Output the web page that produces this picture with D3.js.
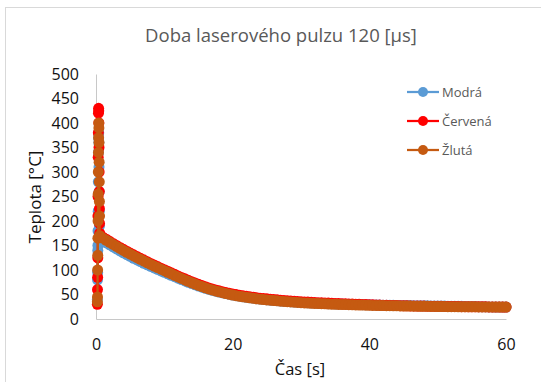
<!doctype html>
<html>
<head>
<meta charset="utf-8">
<style>
  body { margin: 0; background: #fff; }
  text { font-family: "Open Sans", "Noto Sans", sans-serif; }
</style>
<script src="https://d3js.org/d3.v7.min.js"></script>
</head>
<body>
<svg id="chart" width="541" height="382"></svg>
<script>
// spike during the pulse (time in s)
var spikeTime = [0.20, 0.22, 0.24, 0.26, 0.28, 0.30, 0.32, 0.34, 0.36, 0.38, 0.40, 0.42, 0.44, 0.46, 0.48, 0.50, 0.52, 0.54];
var blueSpike   = [40, 80, 95, 140, 150, 180, 220, 280, 340, 370, 380, 360, 310, 260, 220, 190, 160, 155];
var redSpike    = [30, 60, 85, 125, 210, 250, 330, 380, 420, 430, 425, 400, 350, 300, 260, 225, 195, 175];
var orangeSpike = [35, 45, 100, 130, 165, 200, 255, 300, 340, 370, 400, 390, 360, 320, 280, 240, 210, 170];

// cooling after the pulse (time in s)
var coolTime = [
  1, 1.5, 2, 2.5, 3, 3.5, 4, 4.5, 5, 5.5,
  6, 6.5, 7, 7.5, 8, 8.5, 9, 9.5, 10, 10.5,
  11, 11.5, 12, 12.5, 13, 13.5, 14, 14.5, 15, 15.5,
  16, 16.5, 17, 17.5, 18, 18.5, 19, 19.5, 20, 20.5,
  21, 21.5, 22, 22.5, 23, 23.5, 24, 24.5, 25, 25.5,
  26, 26.5, 27, 27.5, 28, 28.5, 29, 29.5, 30, 30.5,
  31, 31.5, 32, 32.5, 33, 33.5, 34, 34.5, 35, 35.5,
  36, 36.5, 37, 37.5, 38, 38.5, 39, 39.5, 40, 40.5,
  41, 41.5, 42, 42.5, 43, 43.5, 44, 44.5, 45, 45.5,
  46, 46.5, 47, 47.5, 48, 48.5, 49, 49.5, 50, 50.5,
  51, 51.5, 52, 52.5, 53, 53.5, 54, 54.5, 55, 55.5,
  56, 56.5, 57, 57.5, 58, 58.5, 59, 59.5, 60];
var blueCool = [
  160, 155.6, 151.3, 147, 142.9, 138.9, 135, 131.3, 127.6, 124,
  120.5, 117.1, 113.8, 110.5, 107.3, 104.2, 101.2, 98.2, 95.3, 92.3,
  89.3, 86.3, 83.4, 80.5, 77.7, 74.9, 72.3, 69.7, 67.2, 64.9,
  62.7, 60.6, 58.6, 56.8, 55, 53.4, 51.8, 50.4, 49, 47.7,
  46.5, 45.4, 44.3, 43.3, 42.4, 41.5, 40.7, 39.9, 39.2, 38.5,
  37.9, 37.3, 36.7, 36.2, 35.7, 35.2, 34.7, 34.3, 33.9, 33.5,
  33.1, 32.8, 32.5, 32.2, 31.9, 31.6, 31.3, 31.1, 30.8, 30.6,
  30.4, 30.2, 30, 29.8, 29.6, 29.4, 29.2, 29.1, 28.9, 28.8,
  28.6, 28.5, 28.3, 28.2, 28, 27.9, 27.8, 27.7, 27.5, 27.4,
  27.3, 27.2, 27.1, 27, 26.9, 26.8, 26.7, 26.6, 26.5, 26.4,
  26.3, 26.2, 26.1, 26, 25.9, 25.8, 25.7, 25.6, 25.5, 25.3,
  25.1, 24.9, 24.8, 24.7, 24.6, 24.5, 24.4, 24.35, 24.3];
var redCool = [
  167, 162.8, 158.6, 154.3, 150.1, 146.1, 142.1, 138.3, 134.6, 130.9,
  127.3, 123.8, 120.3, 116.9, 113.5, 110.2, 107, 103.8, 100.7, 97.5,
  94.3, 91.1, 88, 84.9, 81.9, 79, 76.1, 73.4, 70.7, 68.2,
  65.8, 63.5, 61.4, 59.4, 57.5, 55.8, 54.1, 52.6, 51.1, 49.8,
  48.5, 47.4, 46.3, 45.3, 44.3, 43.4, 42.6, 41.8, 41.1, 40.4,
  39.7, 39.1, 38.5, 37.9, 37.4, 36.9, 36.4, 35.9, 35.4, 34.9,
  34.5, 34.1, 33.7, 33.3, 33, 32.7, 32.4, 32.1, 31.8, 31.5,
  31.2, 30.9, 30.7, 30.4, 30.2, 29.9, 29.7, 29.4, 29.2, 28.9,
  28.7, 28.4, 28.2, 27.9, 27.7, 27.5, 27.3, 27.1, 26.9, 26.8,
  26.7, 26.6, 26.5, 26.4, 26.3, 26.2, 26.1, 26, 25.9, 25.8,
  25.7, 25.6, 25.5, 25.4, 25.3, 25.2, 25.1, 25, 24.95, 24.9,
  24.85, 24.8, 24.75, 24.7, 24.65, 24.6, 24.55, 24.5, 24.45];
var orangeCool = [
  165, 160.7, 156.5, 152.2, 148, 144, 140, 136.2, 132.5, 128.8,
  125.2, 121.7, 118.2, 114.8, 111.4, 108.1, 104.9, 101.7, 98.6, 95.4,
  92.2, 89, 85.9, 82.8, 79.8, 76.9, 74, 71.3, 68.6, 66.1,
  63.7, 61.4, 59.3, 57.3, 55.4, 53.7, 52, 50.5, 49, 47.7,
  46.4, 45.3, 44.2, 43.2, 42.2, 41.3, 40.5, 39.7, 39, 38.3,
  37.6, 37, 36.4, 35.8, 35.3, 34.8, 34.3, 33.8, 33.4, 32.9,
  32.5, 32.1, 31.8, 31.5, 31.2, 30.9, 30.6, 30.3, 30.1, 29.8,
  29.6, 29.4, 29.2, 29, 28.8, 28.6, 28.4, 28.2, 28, 27.8,
  27.7, 27.5, 27.4, 27.2, 27.1, 26.9, 26.8, 26.6, 26.5, 26.4,
  26.3, 26.2, 26.1, 26, 25.9, 25.8, 25.7, 25.6, 25.5, 25.4,
  25.3, 25.2, 25.1, 25.05, 25, 24.95, 24.9, 24.85, 24.8, 24.75,
  24.7, 24.65, 24.6, 24.55, 24.5, 24.45, 24.4, 24.35, 24.3];

var seriesNames = ["Modrá", "Červená", "Žlutá"];
var seriesColors = ["#5b9bd5", "#ff0000", "#c55a11"];
var xTicks = [0, 20, 40, 60];
var yTicks = [0, 50, 100, 150, 200, 250, 300, 350, 400, 450, 500];

function pts(ts, vs) { return ts.map(function(t, i) { return [t, vs[i]]; }); }
var series = [
  pts(spikeTime, blueSpike).concat(pts(coolTime, blueCool)),
  pts(spikeTime, redSpike).concat(pts(coolTime, redCool)),
  pts(spikeTime, orangeSpike).concat(pts(coolTime, orangeCool))
];

var svg = d3.select("#chart");

// outer chart border
svg.append("rect")
  .attr("x", 5.5).attr("y", 7.5)
  .attr("width", 545).attr("height", 385)
  .attr("fill", "none").attr("stroke", "#d9d9d9");

var x = d3.scaleLinear().domain([0, 60]).range([96, 506]);
var y = d3.scaleLinear().domain([0, 500]).range([319, 74]);

// axes
var xAxis = svg.append("g")
  .attr("transform", "translate(0,319)")
  .call(d3.axisBottom(x).tickValues(xTicks).tickSize(0).tickPadding(20));
xAxis.select(".domain").attr("stroke", "#c8c8c8");
xAxis.selectAll("text").attr("font-size", "16px").attr("fill", "#111");

var yAxis = svg.append("g")
  .attr("transform", "translate(96,0)")
  .call(d3.axisLeft(y).tickValues(yTicks).tickSize(0).tickPadding(17));
yAxis.select(".domain").attr("stroke", "#c8c8c8");
yAxis.selectAll("text").attr("font-size", "16px").attr("fill", "#111");

// series
var line = d3.line().x(function(d) { return x(d[0]); }).y(function(d) { return y(d[1]); });
series.forEach(function(s, i) {
  var g = svg.append("g");
  g.append("path")
    .attr("d", line(s))
    .attr("fill", "none")
    .attr("stroke", seriesColors[i])
    .attr("stroke-width", 2.25);
  g.selectAll("circle")
    .data(s)
    .enter().append("circle")
    .attr("cx", function(d) { return x(d[0]); })
    .attr("cy", function(d) { return y(d[1]); })
    .attr("r", 5.5)
    .attr("fill", seriesColors[i]);
});

// title
svg.append("text")
  .attr("x", 281).attr("y", 42)
  .attr("text-anchor", "middle")
  .attr("font-size", "18.5px")
  .attr("fill", "#595959")
  .text("Doba laserového pulzu 120 [µs]");

// axis titles
svg.append("text")
  .attr("x", 300).attr("y", 375)
  .attr("text-anchor", "middle")
  .attr("font-size", "16.5px")
  .attr("fill", "#111")
  .text("Čas [s]");

svg.append("text")
  .attr("transform", "translate(41,197) rotate(-90)")
  .attr("text-anchor", "middle")
  .attr("font-size", "17px")
  .attr("fill", "#111")
  .text("Teplota [°C]");

// legend
var legend = svg.append("g");
seriesNames.forEach(function(name, i) {
  var ly = 92 + i * 29;
  legend.append("line")
    .attr("x1", 407).attr("x2", 439)
    .attr("y1", ly).attr("y2", ly)
    .attr("stroke", seriesColors[i]).attr("stroke-width", 2.25);
  legend.append("circle")
    .attr("cx", 423).attr("cy", ly).attr("r", 5)
    .attr("fill", seriesColors[i]);
  legend.append("text")
    .attr("x", 442).attr("y", ly + 4.5)
    .attr("font-size", "13px")
    .attr("fill", "#595959")
    .text(name);
});
</script>
</body>
</html>
